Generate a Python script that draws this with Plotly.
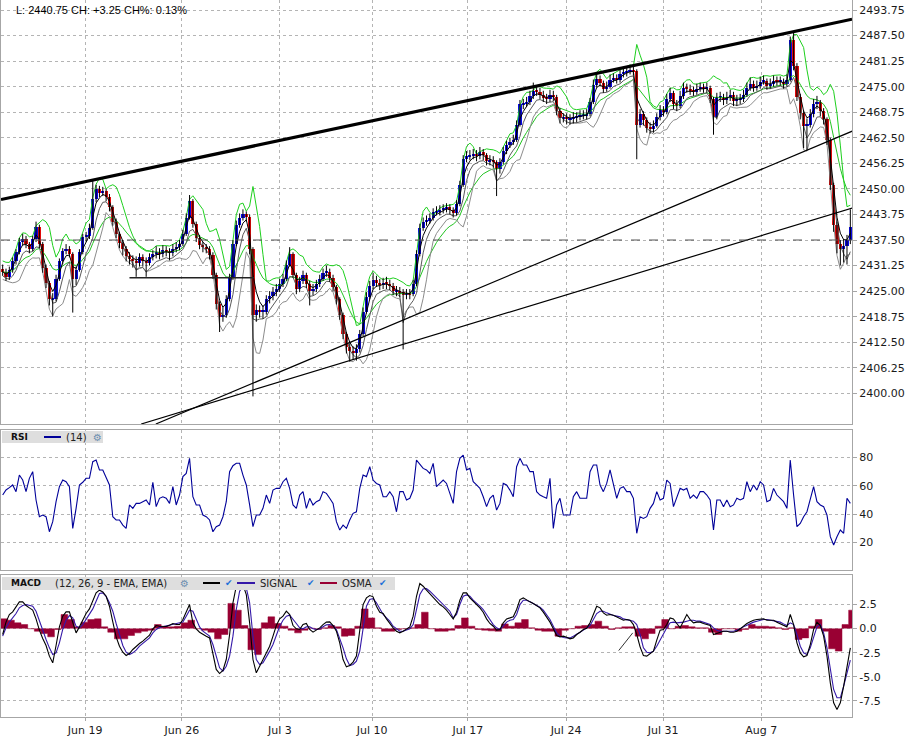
import numpy as np
import pandas as pd
import plotly.graph_objects as go

# 4-hour bars (open = previous close)
first_open = 2430.5
close = [
    2429.75, 2428.5, 2430.25, 2432.25, 2434.5, 2437, 2437.75, 2436.5, 2435.25, 2437.75,
    2440.75, 2436.5, 2430.75, 2427, 2423, 2423, 2428, 2432.25, 2434.75, 2435.25,
    2434, 2428, 2430.25, 2434.5, 2438.25, 2438.5, 2440.5, 2447.5, 2450, 2449,
    2449.5, 2448, 2445.5, 2442, 2439, 2436.75, 2435.25, 2433.5, 2432.75, 2432.25,
    2432, 2433.25, 2432.25, 2432, 2433.25, 2434, 2434.5, 2434, 2435, 2434.75,
    2434.25, 2435.25, 2435.75, 2436.5, 2439, 2443, 2447, 2441.5, 2438, 2436.25,
    2435.75, 2435.25, 2433.75, 2429, 2421.75, 2418.75, 2419.25, 2423, 2428.25, 2436.5,
    2441.25, 2443, 2443.75, 2443.25, 2435.25, 2419.25, 2420.5, 2420, 2420, 2423,
    2423.75, 2424.75, 2425.5, 2426.75, 2428, 2431.5, 2434, 2429, 2425.5, 2427.5,
    2429, 2426.75, 2425, 2425.5, 2426.75, 2428, 2429.5, 2429.75, 2428.25, 2426,
    2423, 2419.25, 2414.5, 2411.25, 2410.25, 2409.75, 2410.75, 2414.5, 2420, 2423.5,
    2426.25, 2427.75, 2427, 2426.5, 2427, 2426.75, 2426.25, 2425, 2425, 2424.75,
    2424, 2424.5, 2424.25, 2426.75, 2434, 2440.5, 2442, 2442.25, 2443, 2444.25,
    2444.5, 2444.75, 2445.25, 2445.5, 2444.75, 2444, 2446.25, 2451, 2457.25, 2458,
    2458.25, 2458.5, 2458, 2459, 2458.25, 2456.75, 2457, 2456.5, 2454.75, 2456.5,
    2459.25, 2460.75, 2461.5, 2462, 2465.75, 2470.75, 2470.75, 2471.25, 2472.75, 2474,
    2473.75, 2473, 2472.25, 2472, 2473, 2472.5, 2469, 2467.25, 2467.5, 2467,
    2467, 2467.5, 2467.5, 2468, 2468, 2468.25, 2471.25, 2475.5, 2477, 2476,
    2474.5, 2475, 2476.75, 2477, 2476.75, 2478, 2478.5, 2478.75, 2479, 2478.75,
    2465.75, 2468.25, 2466.75, 2465, 2464.75, 2465.5, 2467.5, 2469.25, 2468.75, 2472,
    2473.5, 2470.75, 2470.25, 2472.75, 2474.75, 2474.5, 2474, 2473.75, 2474.5, 2474.75,
    2474.5, 2474.75, 2472, 2467.5, 2472.5, 2472.5, 2471.75, 2472.5, 2473, 2471.5,
    2471.75, 2472, 2473, 2474.75, 2475.75, 2474.75, 2475.25, 2476.25, 2476.5, 2475.25,
    2475.75, 2476.5, 2476.25, 2476.25, 2475.75, 2476.75, 2486.5, 2480, 2472.5, 2468.5,
    2465.5, 2465.75, 2468.25, 2470.75, 2471.25, 2469, 2467, 2462, 2451, 2441.25,
    2436.5, 2435.25, 2436, 2437.5, 2440.75,
]
high = [
    2431.5, 2430.5, 2431, 2433.25, 2435.25, 2438, 2439, 2438.5, 2437, 2438.5,
    2442, 2441.25, 2437, 2431.5, 2427.5, 2424.5, 2429, 2433, 2435.5, 2436.5,
    2436, 2434.5, 2431, 2435.25, 2439, 2439.5, 2441.5, 2452.25, 2451, 2450.75,
    2450.5, 2450, 2448.75, 2446, 2442.75, 2439.5, 2437.5, 2436, 2434.5, 2433.75,
    2433.5, 2434.25, 2434, 2433.25, 2434.25, 2435, 2436, 2435.5, 2436.25, 2436,
    2435.5, 2436.5, 2437, 2437.5, 2440, 2444, 2448.5, 2447.5, 2442, 2438.75,
    2437, 2436.5, 2436, 2434.5, 2429.5, 2422.5, 2421, 2424, 2429.25, 2437.5,
    2442.25, 2444, 2445, 2444.5, 2443.75, 2435.75, 2421.75, 2421.5, 2421.5, 2424,
    2425, 2426, 2426.75, 2428, 2429.25, 2432.5, 2435.75, 2434.5, 2429.5, 2428.5,
    2430, 2429.5, 2427.5, 2426.75, 2427.75, 2429, 2430.5, 2431.25, 2430.5, 2429,
    2426.5, 2423.5, 2419.75, 2415, 2412.25, 2411.5, 2412, 2415.5, 2421, 2424.75,
    2427.5, 2429.5, 2428.75, 2428, 2428.25, 2428.5, 2427.75, 2427, 2426.25, 2426,
    2425.5, 2425.5, 2425.5, 2427.75, 2435, 2441.5, 2443, 2443.5, 2444, 2445.25,
    2445.75, 2446, 2446.25, 2446.5, 2446.25, 2445.5, 2447.25, 2452, 2458.25, 2459.25,
    2459.5, 2459.75, 2459.5, 2460.25, 2459.75, 2458.75, 2458.25, 2458, 2457, 2457.5,
    2460.25, 2461.75, 2462.5, 2463.25, 2466.75, 2471.75, 2472, 2472.5, 2474, 2476,
    2475.25, 2474.75, 2474, 2473.25, 2474.25, 2474, 2473, 2469.75, 2468.5, 2468.5,
    2468.25, 2468.75, 2468.75, 2469.25, 2469.25, 2469.5, 2472.25, 2476.75, 2478.5, 2477.75,
    2476.5, 2476.25, 2478, 2478.25, 2478, 2479.25, 2479.75, 2480, 2480.25, 2480,
    2479.25, 2469.5, 2469, 2467.5, 2466.25, 2466.75, 2468.5, 2470.5, 2470.25, 2473.25,
    2474.75, 2474, 2471.75, 2474, 2476, 2475.75, 2475.5, 2475, 2475.75, 2476,
    2475.75, 2476, 2475.25, 2472.5, 2473.5, 2473.75, 2473.25, 2473.75, 2474.25, 2473.75,
    2473, 2473.25, 2474.25, 2476, 2477.25, 2476.5, 2476.5, 2477.5, 2477.75, 2477,
    2477, 2477.75, 2477.5, 2477.5, 2477, 2478, 2487.25, 2488.25, 2480.75, 2473.25,
    2469.25, 2467.25, 2469.5, 2472, 2472.75, 2471.75, 2469.75, 2467.5, 2462.5, 2451.5,
    2442, 2437.5, 2437.75, 2438.75, 2445,
]
low = [
    2428.75, 2427.5, 2427.75, 2429.5, 2431.5, 2434, 2436.25, 2435.5, 2434.25, 2434.75,
    2437, 2435.5, 2429.5, 2425.75, 2421.5, 2418.75, 2422.5, 2427.5, 2431.5, 2434,
    2433.25, 2419.75, 2426.5, 2429.75, 2434, 2437.25, 2437.75, 2440, 2446.75, 2448,
    2448.25, 2447, 2444.5, 2441, 2438, 2435.5, 2433.75, 2432.25, 2431.5, 2430.75,
    2428.5, 2431, 2431, 2428.5, 2431.25, 2432.5, 2433, 2432.75, 2433.25, 2433.5,
    2432.5, 2433.5, 2434.5, 2435, 2436, 2438.5, 2442.5, 2440.5, 2437, 2435.25,
    2434.5, 2434.25, 2432.75, 2428, 2420.5, 2415, 2417.5, 2418.5, 2422.5, 2427.75,
    2436, 2440.5, 2442.25, 2442, 2434, 2399.25, 2417.5, 2418.5, 2418.25, 2419.25,
    2422, 2422.75, 2423.75, 2424.75, 2426, 2427.5, 2431, 2428.25, 2424.25, 2424.75,
    2426.75, 2425.75, 2421.5, 2424, 2424.75, 2426, 2427.5, 2428.5, 2427.25, 2425,
    2421.75, 2418, 2413.25, 2409.75, 2407.75, 2408.25, 2408, 2410, 2414, 2419.5,
    2423, 2425.5, 2426, 2425.25, 2425.5, 2425.5, 2425.25, 2424, 2423.75, 2423.5,
    2410.75, 2423, 2423, 2423.75, 2426.25, 2433.5, 2439.75, 2441, 2441.5, 2442.25,
    2443.5, 2443.5, 2444, 2444.25, 2443.75, 2443, 2443.5, 2445.75, 2450.5, 2456.5,
    2457, 2457.25, 2456.75, 2457.25, 2457, 2455.75, 2455.75, 2455.25, 2448.25, 2453.75,
    2456, 2458.5, 2460, 2460.75, 2461.5, 2465.25, 2469.5, 2470, 2470.5, 2472,
    2472.75, 2472, 2471.25, 2470.75, 2471.25, 2471.5, 2468, 2466, 2466.25, 2465.75,
    2465.75, 2466, 2466.25, 2466.75, 2467, 2467, 2467.75, 2470.75, 2474.75, 2475,
    2473.5, 2473.75, 2474.5, 2476, 2475.75, 2476, 2477.25, 2477.5, 2478, 2477.75,
    2457.25, 2465, 2465.5, 2463.75, 2463.5, 2463.75, 2465, 2466.75, 2467.75, 2468.25,
    2471.25, 2469.5, 2469, 2469.75, 2472, 2473.5, 2473, 2472.75, 2473, 2473.75,
    2473.5, 2473.5, 2471, 2463.25, 2467, 2471.25, 2470.5, 2470.75, 2471.5, 2470.25,
    2470.25, 2470.75, 2471.25, 2472.5, 2474, 2473.75, 2474, 2474.5, 2475.5, 2474.25,
    2474.5, 2475, 2475.25, 2475.25, 2474.5, 2475, 2476.25, 2479, 2471.5, 2467,
    2460, 2459.5, 2465, 2467.5, 2469.5, 2467.75, 2465.75, 2460.75, 2449.75, 2439.5,
    2434.25, 2431.25, 2432, 2431.5, 2436.5,
]

# RSI(14), read per bar from the lower panel
rsi = [
    53.4, 57, 58.6, 60.5, 55.8, 67.5, 64, 55.8, 65.2, 69.9,
    49.9, 38.1, 39.3, 38.1, 27.5, 34.6, 48.7, 59.3, 64, 62.8,
    59.3, 29.9, 44, 60.5, 62.4, 65.2, 65.2, 76.9, 78.1, 71.1,
    71.1, 65.2, 60.5, 38.1, 35.8, 35.8, 32.2, 29.9, 46.4, 44,
    47.5, 47.5, 48.7, 49.9, 46.4, 62.4, 45.2, 51.1, 52.2, 51.1,
    47.5, 59.3, 46.4, 53.4, 66.4, 68.7, 79.3, 52.2, 46.4, 46.4,
    39.3, 38.1, 35.8, 27.5, 31.1, 32.2, 38.1, 48.7, 69.9, 74.1,
    75.8, 75.8, 67.5, 60.5, 46.4, 31.1, 39.3, 39.3, 44, 53.4,
    47.5, 56.9, 58.1, 58.1, 62.8, 65.2, 58.1, 46.4, 44, 53.4,
    55.8, 44, 51.1, 46.4, 48.7, 49.9, 55.8, 54.6, 51.1, 47.5,
    34.6, 28.7, 32.2, 29.9, 35.8, 40.5, 41.6, 58.1, 67.5, 66.4,
    73.4, 64, 61.6, 60.5, 52.2, 52.2, 55.8, 52.2, 41.6, 55.8,
    55.8, 49.9, 51.1, 56.9, 78.1, 74.8, 72.2, 71.1, 68.7, 75.8,
    59.3, 61.6, 64, 61.6, 54.6, 47.5, 69.9, 79.3, 81.6, 71.1,
    72.2, 62.8, 60.5, 58.1, 52.2, 45.2, 51.1, 53.4, 42.8, 47.5,
    61.6, 60.5, 56.9, 52.2, 73.4, 79.3, 74.6, 74.6, 69.9, 69.9,
    55.8, 53.4, 52.2, 51.1, 65.2, 29.9, 46.4, 51.1, 39.3, 39.3,
    39.3, 52.2, 55.8, 51.1, 51.1, 51.1, 69.9, 74.6, 74.6, 60.5,
    55.8, 61.6, 71.1, 60.5, 51.1, 58.1, 59.3, 55.8, 55.8, 51.1,
    26.4, 38.1, 36.9, 38.1, 44, 47.5, 55.8, 49.9, 51.1, 64,
    61.6, 45.2, 52.2, 58.1, 56.9, 58.1, 51.1, 53.4, 51.1, 55.8,
    55.8, 53.4, 49.9, 28.7, 49.9, 49.9, 45.2, 49.9, 45.2, 46.4,
    51.1, 49.9, 51.1, 62.8, 55.8, 60.5, 56.9, 62.8, 60.5, 48.7,
    49.9, 58.1, 53.4, 51.1, 48.7, 44, 78.1, 53.4, 31.1, 33.4,
    38.1, 41.6, 51.1, 59.3, 48.7, 46.4, 45.2, 39.3, 24, 18.1,
    24, 28.7, 26.4, 51.1, 47.5,
]

# MACD (12, 26, 9) line and signal, read per bar
macd = [
    -0.62, 0.66, 1.45, 1.72, 2.24, 2.76, 2.76, 2.38, 2.14, 1.9,
    1.0, -0.17, -1.03, -1.76, -2.86, -3.55, -1.76, 0.17, 1.28, 1.72,
    1.72, 0.52, -0.45, 0.17, 0.93, 1.55, 2.03, 2.83, 3.69, 3.97,
    3.79, 3.34, 2.31, 0.69, -0.86, -1.83, -2.45, -2.79, -2.59, -2.17,
    -1.83, -1.55, -1.31, -1.03, -0.69, -0.03, 0.31, 0.24, 0.21, 0.21,
    0.34, 0.52, 0.41, 0.41, 0.93, 1.79, 2.48, 0.59, -0.03, -0.38,
    -0.62, -0.79, -0.97, -2.52, -4.24, -4.66, -4.34, -3.21, -0.62, 2.66,
    4.38, 4.72, 4.55, 3.52, 0.59, -3.21, -4.59, -3.9, -3.21, -2.52,
    -1.83, -0.79, 0.31, 1.0, 1.28, 1.79, 1.45, 0.31, -0.03, -0.1,
    0.41, 0.52, -0.1, -0.38, -0.17, 0.07, 0.41, 0.66, 0.69, 0.31,
    -0.28, -1.48, -3.21, -3.97, -3.83, -3.48, -2.86, -0.28, 2.48, 3.17,
    3.41, 3.28, 2.31, 1.69, 1.55, 1.0, 0.52, 0.07, -0.28, -0.45,
    -0.28, -0.03, 0.17, 1.28, 3.34, 4.66, 4.38, 3.97, 3.62, 3.17,
    2.83, 2.48, 2.24, 1.9, 1.45, 1.0, 1.69, 2.93, 3.69, 3.69,
    3.17, 2.83, 2.48, 2.14, 1.69, 1.0, 0.52, 0.24, -0.17, -0.1,
    0.59, 1.0, 1.1, 1.21, 1.97, 3.0, 3.17, 2.93, 2.76, 2.59,
    2.38, 2.14, 1.69, 1.21, 0.66, -0.03, -0.72, -0.86, -0.79, -0.9,
    -1.07, -0.97, -0.62, -0.38, -0.1, 0.03, 0.59, 1.45, 2.31, 2.14,
    1.62, 1.38, 1.45, 1.38, 1.21, 1.0, 0.86, 0.93, 0.86, 0.41,
    -0.62, -1.9, -2.79, -2.86, -2.59, -2.34, -1.21, -0.17, -0.1, 0.41,
    1.1, 1.0, 0.52, 0.07, 0.76, 1.45, 0.93, 0.59, 0.66, 0.66,
    0.52, 0.41, 0.31, -0.62, -0.52, -0.38, -0.28, -0.28, -0.38, -0.38,
    -0.28, -0.03, 0.24, 0.52, 0.69, 0.86, 0.93, 1.0, 1.0, 0.86,
    0.86, 0.86, 0.66, 0.52, 0.31, 0.17, 1.45, 0.41, -1.48, -2.52,
    -2.93, -2.79, -1.66, -0.1, 0.66, 0.31, -0.79, -2.86, -5.62, -7.69,
    -8.38, -7.69, -5.97, -3.9, -2.0,
]
signal = [
    -0.79, 0.07, 0.66, 1.1, 1.55, 2.14, 2.38, 2.48, 2.41, 2.31,
    1.79, 0.76, -0.28, -1.14, -2.0, -2.69, -2.52, -1.48, -0.1, 0.86,
    1.34, 1.1, 0.24, 0.07, 0.41, 0.93, 1.45, 2.03, 2.83, 3.62,
    3.69, 3.34, 2.66, 1.79, 0.52, -0.72, -1.76, -2.45, -2.69, -2.52,
    -2.24, -1.83, -1.55, -1.24, -0.97, -0.45, -0.1, 0.1, 0.17, 0.24,
    0.31, 0.41, 0.45, 0.52, 0.66, 1.28, 1.9, 1.79, 0.93, 0.17,
    -0.28, -0.52, -0.79, -1.66, -2.86, -4.07, -4.41, -3.9, -2.86, -0.79,
    1.97, 3.86, 4.38, 4.21, 2.66, -0.79, -3.21, -3.72, -3.55, -2.86,
    -2.34, -1.66, -0.62, 0.24, 0.86, 1.28, 1.38, 1.0, 0.52, 0.07,
    -0.03, 0.17, 0.17, -0.03, -0.1, -0.03, 0.17, 0.38, 0.41, 0.31,
    -0.1, -0.97, -2.0, -3.14, -3.83, -3.72, -3.38, -2.34, -0.1, 2.31,
    3.0, 3.1, 2.66, 1.97, 1.45, 1.1, 0.76, 0.24, -0.03, -0.28,
    -0.28, -0.17, -0.03, 0.41, 1.97, 3.52, 4.1, 4.14, 3.86, 3.52,
    3.17, 2.83, 2.55, 2.24, 1.79, 1.1, 1.45, 2.48, 3.34, 3.48,
    3.34, 2.93, 2.66, 2.31, 1.97, 1.45, 0.86, 0.41, 0.07, -0.1,
    0.24, 0.66, 0.86, 0.93, 1.45, 2.48, 2.93, 2.93, 2.76, 2.59,
    2.41, 2.21, 1.9, 1.45, 0.93, 0.24, -0.45, -0.79, -0.93, -0.97,
    -0.97, -0.79, -0.62, -0.38, -0.17, 0.07, 0.31, 0.93, 1.55, 1.79,
    1.79, 1.62, 1.45, 1.34, 1.28, 1.21, 1.0, 0.93, 0.86, 0.76,
    0.41, -0.62, -2.0, -2.45, -2.52, -2.34, -1.83, -1.14, -0.62, 0.07,
    0.59, 0.66, 0.59, 0.59, 0.66, 0.76, 0.86, 0.86, 0.76, 0.76,
    0.66, 0.52, 0.41, 0.07, -0.17, -0.28, -0.28, -0.28, -0.28, -0.28,
    -0.17, -0.03, 0.17, 0.34, 0.52, 0.66, 0.76, 0.86, 0.93, 0.93,
    0.86, 0.86, 0.76, 0.66, 0.48, 0.31, 0.59, 0.41, -0.62, -1.83,
    -2.52, -2.69, -2.0, -0.79, 0.17, 0.41, -0.45, -2.0, -4.24, -6.31,
    -7.17, -7.17, -5.97, -4.5, -3.28,
]
# OSMA histogram, read every second bar
osma = [
    1.0, 0.86, 0.59, 0.41, -0.03, -0.28, -0.52, -0.86, -0.1, 1.45,
    0.93, 0.17, 0.66, 0.93, 1.0, 0.17, -0.38, -1.07, -1.07, -0.72,
    -0.45, -0.28, -0.17, 0.41, 0.24, 0.17, 0.24, 0.59, 0.86, -0.03,
    -0.17, -0.38, -1.07, -0.62, 2.6, 1.9, 0.31, -2.2, -2.7, 0.59,
    1.21, 0.52, 0.24, -0.17, -0.45, -0.17, 0.03, -0.1, 0.07, 0.31,
    0.17, -0.79, -0.72, 0.24, 2.03, 1.1, 0.07, -0.28, -0.28, -0.1,
    -0.03, 0.07, 0.41, 1.69, -0.03, -0.28, -0.28, -0.17, 0.31, 1.1,
    0.24, -0.1, -0.17, -0.24, -0.28, 0.48, 0.24, 0.59, 0.93, 0.07,
    -0.17, -0.28, -0.28, -0.79, -0.17, -0.03, 0.24, 0.31, 0.41, 0.76,
    0.24, -0.1, 0.07, 0.17, 0.17, -0.79, -1.07, -0.52, 0.24, 0.93,
    -0.03, 0.24, 0.31, 0.17, 0.07, 0.07, -0.38, -0.62, -0.03, -0.03,
    -0.28, -0.1, 0.41, 0.24, 0.24, 0.17, 0.07, -0.1, 0.07, -1.14,
    -0.97, 0.24, 0.93, -0.28, -2.1, -2.34, 0.41, 1.9,
]
assert len(close) == len(high) == len(low) == len(rsi) == len(macd) == len(signal) == 255
assert len(osma) == 128

date_labels = ["Jun 19", "Jun 26", "Jul 3", "Jul 10", "Jul 17", "Jul 24", "Jul 31", "Aug 7"]
date_bars = [24.7, 53.7, 83.1, 110.7, 139.4, 168.8, 197.9, 227.3]

price_ticks = [2400.00, 2406.25, 2412.50, 2418.75, 2425.00, 2431.25, 2437.50, 2443.75,
               2450.00, 2456.25, 2462.50, 2468.75, 2475.00, 2481.25, 2487.50, 2493.75]
rsi_ticks = [20, 40, 60, 80]
macd_ticks = [2.5, 0.0, -2.5, -5.0, -7.5]
macd_tick_text = ["2.5", "0.0", "-2.5", "-5.0", "-7.5"]

# hand-drawn objects: (bar, value) anchors
trend_top_bars, trend_top_prices = [-0.5, 254.5], [2447.4, 2491.5]
trend_a_bars, trend_a_prices = [45.9, 254.8], [2392.5, 2464.2]
trend_b_bars, trend_b_prices = [41.5, 254.8], [2392.5, 2445.4]
support_bars, support_prices = [38, 75.3], [2428.25, 2428.25]
macd_stroke_bars, macd_stroke_vals = [184.6, 188.8], [-2.28, -0.45]

# ---- price overlays
s = pd.Series(close, dtype=float)
h = pd.Series(high, dtype=float)
l = pd.Series(low, dtype=float)
o = s.shift(1).fillna(first_open)
idx = np.arange(len(s))
# each OSMA reading covers two bars: step from its first bar to the next reading
osma_x = list(idx[::2] - 0.5) + [len(s) - 0.5]
osma_y = osma + [osma[-1]]


def ema(x, n):
    return x.ewm(span=n, adjust=False).mean()


std5 = s.rolling(5, min_periods=2).std().bfill()
green_fast = ema(h, 5) + std5
green_slow = ema(s, 12)
grey_band = ema(l, 5) - std5
grey_low = ema(l, 3)
black_ma = ema(s, 3)

# ---- figure geometry
W, H = 912, 742
ML, MR, MT, MB = 1, 60, 0, 25


def fx(px):
    return (px - ML) / (W - ML - MR)


def fy(py):
    return (H - MB - py) / (H - MT - MB)


FONT = "DejaVu Sans"
GRID = "#b4b4b4"
FRAME = "#a6a6a6"

fig = go.Figure()

for ser, col in [(green_slow, "#22c422"), (green_fast, "#1ed01e"),
                 (grey_band, "#8c8c8c"), (grey_low, "#5a5a5a"), (black_ma, "#000000")]:
    fig.add_trace(go.Scatter(x=idx, y=ser, mode="lines", line=dict(color=col, width=1),
                             xaxis="x", yaxis="y", hoverinfo="skip"))

# wicks
wx, wy = [], []
for i in idx:
    wx += [i, i, None]
    wy += [low[i], high[i], None]
fig.add_trace(go.Scatter(x=wx, y=wy, mode="lines", line=dict(color="black", width=1),
                         xaxis="x", yaxis="y", hoverinfo="skip"))

# bodies
body_base = np.minimum(o, s)
body_h = np.maximum(np.abs(s - o), 0.2)
body_col = np.where(s >= o, "#0a0ae6", "#e00a0a")
fig.add_trace(go.Bar(x=idx, y=body_h, base=body_base, width=0.95,
                     marker=dict(color=body_col, line_width=0),
                     xaxis="x", yaxis="y", hoverinfo="skip"))

# drawn lines
fig.add_trace(go.Scatter(x=trend_top_bars, y=trend_top_prices, mode="lines",
                         line=dict(color="black", width=3.2), xaxis="x", yaxis="y"))
for bx, by in [(trend_a_bars, trend_a_prices), (trend_b_bars, trend_b_prices)]:
    fig.add_trace(go.Scatter(x=bx, y=by, mode="lines", line=dict(color="black", width=1.2),
                             xaxis="x", yaxis="y"))
fig.add_trace(go.Scatter(x=support_bars, y=support_prices, mode="lines",
                         line=dict(color="#222222", width=1.5), xaxis="x", yaxis="y"))
fig.add_trace(go.Scatter(x=[-0.5, len(s) - 0.5], y=[close[-2], close[-2]], mode="lines",
                         line=dict(color="#555555", width=1, dash="dash"), xaxis="x", yaxis="y"))

# RSI
fig.add_trace(go.Scatter(x=idx, y=rsi, mode="lines", line=dict(color="#000099", width=1.1),
                         xaxis="x2", yaxis="y2", hoverinfo="skip"))

# MACD
fig.add_trace(go.Scatter(x=osma_x, y=osma_y, mode="lines", line=dict(color="#990033", width=0.5, shape="hv"),
                         fill="tozeroy", fillcolor="#990033", xaxis="x3", yaxis="y3", hoverinfo="skip"))
fig.add_trace(go.Scatter(x=idx, y=signal, mode="lines", line=dict(color="#3418a8", width=1.1),
                         xaxis="x3", yaxis="y3", hoverinfo="skip"))
fig.add_trace(go.Scatter(x=idx, y=macd, mode="lines", line=dict(color="black", width=1.1),
                         xaxis="x3", yaxis="y3", hoverinfo="skip"))
fig.add_trace(go.Scatter(x=macd_stroke_bars, y=macd_stroke_vals, mode="lines",
                         line=dict(color="#333333", width=1), xaxis="x3", yaxis="y3"))

xrange = [-0.5, len(s) - 0.5]
xcommon = dict(range=xrange, tickvals=date_bars, ticktext=date_labels, showgrid=True,
               gridcolor=GRID, griddash="dot", gridwidth=1, showline=True, mirror=True,
               linecolor=FRAME, linewidth=1, zeroline=False, fixedrange=True)
ycommon = dict(side="right", showgrid=True, gridcolor=GRID, griddash="dot", gridwidth=1,
               showline=True, mirror=True, linecolor=FRAME, linewidth=1, zeroline=False,
               ticks="outside", ticklen=4, tickcolor=FRAME, fixedrange=True,
               tickfont=dict(family=FONT, size=11, color="#1a1a1a"))

fig.update_layout(
    width=W, height=H, margin=dict(l=ML, r=MR, t=MT, b=MB),
    paper_bgcolor="white", plot_bgcolor="white", showlegend=False, barmode="overlay",
    bargap=0,
    xaxis=dict(xcommon, anchor="y", showticklabels=False),
    xaxis2=dict(xcommon, anchor="y2", matches="x", showticklabels=False),
    xaxis3=dict(xcommon, anchor="y3", matches="x", ticks="outside", ticklen=3, tickcolor=FRAME,
                tickfont=dict(family=FONT, size=11, color="#1a1a1a")),
    yaxis=dict(ycommon, domain=[fy(424), 1.0], range=[2392.5, 2496.2],
               tickvals=price_ticks, tickformat=".2f"),
    yaxis2=dict(ycommon, domain=[fy(570), fy(430)], range=[0.5, 99.3], tickvals=rsi_ticks),
    yaxis3=dict(ycommon, domain=[0, fy(575)], range=[-9.16, 5.54],
                tickvals=macd_ticks, ticktext=macd_tick_text),
)

ch = close[-1] - close[-2]
chp = ch / close[-2] * 100
anns = [
    dict(x=fx(14), y=fy(10), text=f"L: {close[-1]:.2f} CH: {ch:+.2f} CH%: {chp:.2f}%",
         font=dict(family="Liberation Sans", size=11, color="black")),
    dict(x=fx(9), y=fy(437), text="<b>RSI</b>", font=dict(family=FONT, size=9, color="#111")),
    dict(x=fx(64), y=fy(437), text="(14)", font=dict(family=FONT, size=10, color="#222")),
    dict(x=fx(91), y=fy(437), text="⚙", font=dict(family=FONT, size=10, color="#6f8fb0")),
    dict(x=fx(9), y=fy(583), text="<b>MACD</b>", font=dict(family=FONT, size=9, color="#111")),
    dict(x=fx(53), y=fy(583), text="(12, 26, 9 - EMA, EMA)", font=dict(family=FONT, size=10, color="#222")),
    dict(x=fx(178), y=fy(583), text="⚙", font=dict(family=FONT, size=10, color="#6f8fb0")),
    dict(x=fx(223), y=fy(583), text="✔", font=dict(family=FONT, size=9, color="#1f70d8")),
    dict(x=fx(258), y=fy(583), text="SIGNAL", font=dict(family=FONT, size=10, color="#222")),
    dict(x=fx(305), y=fy(583), text="✔", font=dict(family=FONT, size=9, color="#1f70d8")),
    dict(x=fx(340), y=fy(583), text="OSMA", font=dict(family=FONT, size=10, color="#222")),
    dict(x=fx(377), y=fy(583), text="✔", font=dict(family=FONT, size=9, color="#1f70d8")),
]
for a in anns:
    fig.add_annotation(a, xref="paper", yref="paper", xanchor="left", yanchor="middle",
                       showarrow=False)

shapes = [
    dict(type="rect", x0=fx(2), x1=fx(103), y0=fy(443), y1=fy(431), fillcolor="#dedede", line_width=0, layer="above"),
    dict(type="rect", x0=fx(2), x1=fx(395), y0=fy(590), y1=fy(577), fillcolor="#dedede", line_width=0, layer="above"),
    dict(type="line", x0=fx(44), x1=fx(61), y0=fy(437), y1=fy(437), line=dict(color="#000099", width=2)),
    dict(type="line", x0=fx(203), x1=fx(220), y0=fy(583), y1=fy(583), line=dict(color="black", width=2)),
    dict(type="line", x0=fx(237), x1=fx(255), y0=fy(583), y1=fy(583), line=dict(color="#3418a8", width=2)),
    dict(type="line", x0=fx(320), x1=fx(337), y0=fy(583), y1=fy(583), line=dict(color="#990033", width=2)),
]
for sh in shapes:
    fig.add_shape(sh, xref="paper", yref="paper")

fig.write_html("out.html", config={"displayModeBar": False},
               post_script="document.body.style.margin='0';document.body.style.overflow='hidden';")
